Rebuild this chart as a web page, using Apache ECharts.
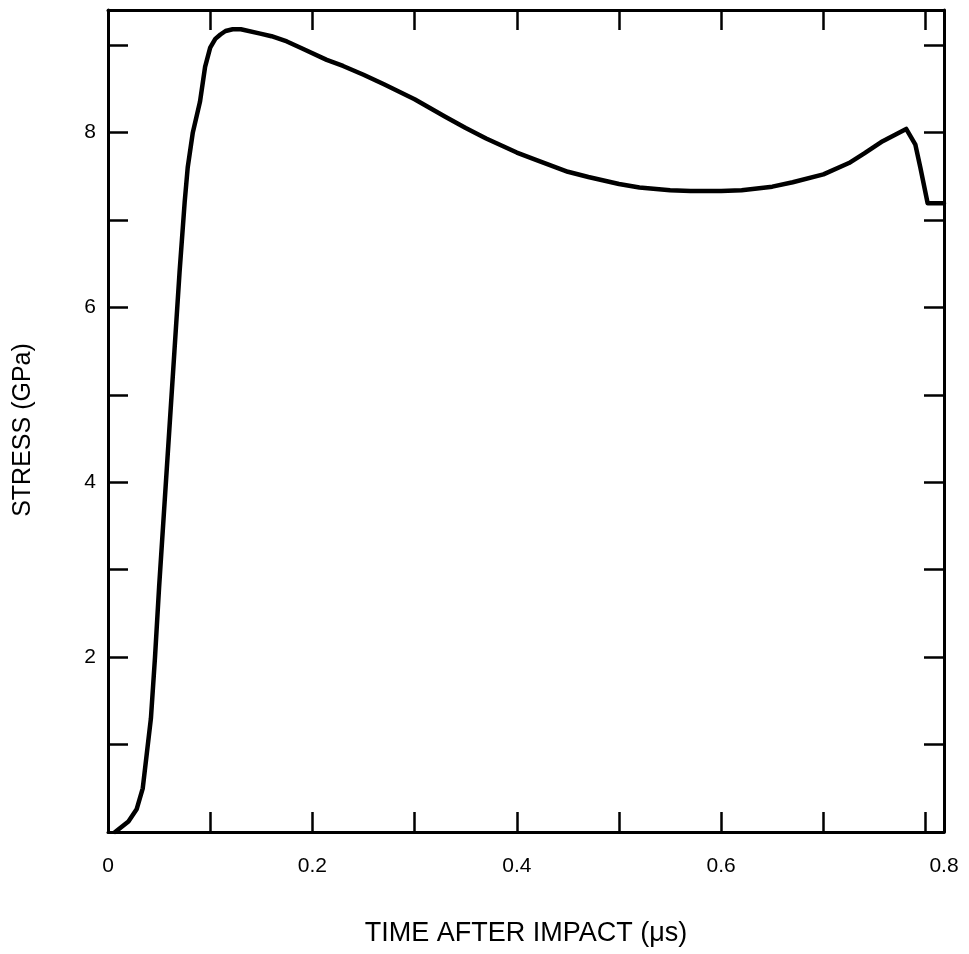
<!DOCTYPE html>
<html><head><meta charset="utf-8">
<script src="https://cdn.jsdelivr.net/npm/echarts@6/dist/echarts.min.js"></script>
<style>html,body{margin:0;padding:0;background:#fff}#c{width:969px;height:954px}</style>
</head><body><div id="c"></div>
<script>
// Data
const timeUs = [0.007,0.02,0.028,0.034,0.038,0.042,0.046,0.05,0.055,0.06,0.065,0.07,0.075,0.078,0.083,0.09,0.095,0.10,0.105,0.11,0.115,0.122,0.13,0.149,0.16,0.175,0.19,0.214,0.23,0.25,0.27,0.30,0.33,0.35,0.37,0.40,0.42,0.45,0.47,0.50,0.52,0.55,0.57,0.60,0.62,0.65,0.67,0.70,0.725,0.74,0.758,0.781,0.79,0.795,0.802,0.818];
const stressGPa = [0,0.12,0.26,0.5,0.9,1.3,2.0,2.8,3.7,4.6,5.5,6.4,7.2,7.6,8.0,8.35,8.75,8.97,9.07,9.12,9.16,9.18,9.18,9.13,9.1,9.04,8.96,8.83,8.76,8.66,8.55,8.38,8.18,8.05,7.93,7.77,7.68,7.55,7.49,7.41,7.37,7.34,7.33,7.33,7.34,7.38,7.43,7.52,7.65,7.76,7.9,8.04,7.86,7.59,7.19,7.19];
const xTickLabels = ['0','0.2','0.4','0.6','0.8'];
const yTickLabels = ['2','4','6','8'];
const xTitle = 'TIME AFTER IMPACT (\u03bcs)';
const yTitle = 'STRESS (GPa)';

const X_MAX = 0.818, Y_MAX = 9.4;
const font = "'Liberation Sans', Arial, sans-serif";
const lineCol = '#000';

function xFmt(v){
  // the drawn frame edge carries the last label
  if (Math.abs(v - X_MAX) < 1e-6) return xTickLabels[xTickLabels.length - 1];
  const r = Math.round(v*10)/10;
  const s = r === 0 ? '0' : r.toFixed(1);
  if (s === xTickLabels[xTickLabels.length - 1]) return '';
  return xTickLabels.indexOf(s) >= 0 ? s : '';
}
function yFmt(v){
  if (Math.abs(v - Math.round(v)) > 1e-6) return '';
  const s = String(Math.round(v));
  return yTickLabels.indexOf(s) >= 0 ? s : '';
}

const axisLine = {show:true, onZero:false, lineStyle:{color:lineCol, width:3}};
const tick = {show:true, inside:true, length:20, lineStyle:{color:lineCol, width:2.5}};

const chart = echarts.init(document.getElementById('c'), null, {renderer:'canvas'});
chart.setOption({
  backgroundColor:'#fff',
  animation:false,
  grid:{left:108, right:25, top:10, bottom:122},
  xAxis:[{
    type:'value', min:0, max:X_MAX, interval:0.1, position:'bottom',
    axisLine, axisTick:tick, splitLine:{show:false},
    axisLabel:{formatter:xFmt, fontFamily:font, fontSize:21, color:'#000', margin:24, showMaxLabel:true, showMinLabel:true},
    name:xTitle, nameLocation:'middle', nameGap:88,
    nameTextStyle:{fontFamily:font, fontSize:27, color:'#000'}
  },{
    type:'value', min:0, max:X_MAX, interval:0.1, position:'top',
    axisLine, axisTick:tick, splitLine:{show:false}, axisLabel:{show:false}
  }],
  yAxis:[{
    type:'value', min:0, max:Y_MAX, interval:1, position:'left',
    axisLine, axisTick:tick, splitLine:{show:false},
    axisLabel:{formatter:yFmt, fontFamily:font, fontSize:21, color:'#000', margin:12, padding:[16,0,0,0]},
    name:yTitle, nameLocation:'middle', nameGap:72, nameRotate:90,
    nameTextStyle:{fontFamily:font, fontSize:25, color:'#000', padding:[0,18,0,0]}
  },{
    type:'value', min:0, max:Y_MAX, interval:1, position:'right',
    axisLine, axisTick:tick, splitLine:{show:false}, axisLabel:{show:false}
  }],
  series:[{
    type:'line', xAxisIndex:0, yAxisIndex:0,
    data: timeUs.map((t,i)=>[t, stressGPa[i]]),
    showSymbol:false, smooth:false,
    lineStyle:{color:'#000', width:4.5, join:'round', cap:'round'}
  }]
});
</script></body></html>
